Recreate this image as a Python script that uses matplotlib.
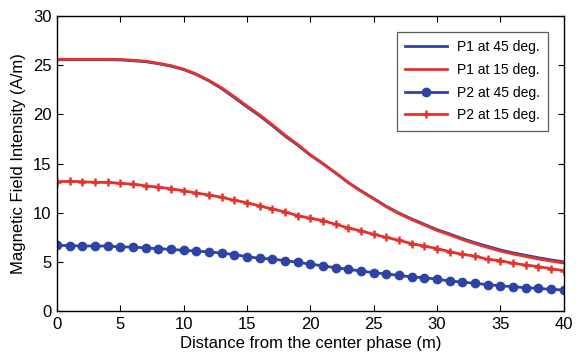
import matplotlib
matplotlib.use("Agg")
import matplotlib.pyplot as plt
import numpy as np

plt.rcParams['font.family'] = ['Liberation Sans', 'DejaVu Sans']

distance = list(range(0, 41))

p1_15 = [25.6, 25.6, 25.6, 25.6, 25.6, 25.58, 25.5, 25.4, 25.2, 24.95,
         24.6, 24.1, 23.45, 22.7, 21.8, 20.85, 19.95, 18.95, 17.9, 16.95,
         15.9, 15.0, 14.05, 13.05, 12.2, 11.4, 10.6, 9.9, 9.3, 8.75,
         8.2, 7.75, 7.27, 6.85, 6.47, 6.1, 5.8, 5.55, 5.3, 5.08, 4.88]

p1_45 = [25.55, 25.55, 25.55, 25.55, 25.55, 25.53, 25.45, 25.35, 25.15, 24.9,
         24.55, 24.05, 23.4, 22.62, 21.7, 20.75, 19.85, 18.85, 17.8, 16.87,
         15.85, 14.97, 14.05, 13.07, 12.23, 11.45, 10.65, 9.96, 9.37, 8.83,
         8.28, 7.84, 7.37, 6.95, 6.58, 6.21, 5.92, 5.67, 5.42, 5.2, 5.0]

p2_15 = [13.15, 13.19, 13.15, 13.08, 13.08, 12.98, 12.9, 12.73, 12.6, 12.43,
         12.23, 11.99, 11.8, 11.56, 11.26, 11.02, 10.68, 10.38, 10.07, 9.7,
         9.43, 9.19, 8.82, 8.44, 8.14, 7.8, 7.49, 7.19, 6.85, 6.61,
         6.35, 6.03, 5.76, 5.59, 5.25, 5.12, 4.85, 4.68, 4.51, 4.31, 4.1]

p2_45 = [6.68, 6.65, 6.61, 6.61, 6.61, 6.51, 6.51, 6.41, 6.34, 6.27,
         6.17, 6.1, 6.0, 5.9, 5.73, 5.53, 5.36, 5.29, 5.12, 4.95,
         4.78, 4.58, 4.41, 4.24, 4.07, 3.9, 3.76, 3.63, 3.46, 3.39,
         3.24, 3.05, 2.95, 2.81, 2.68, 2.57, 2.47, 2.37, 2.3, 2.2, 2.14]

labels = ["P1 at 45 deg.", "P1 at 15 deg.", "P2 at 45 deg.", "P2 at 15 deg."]
xticks = [0, 5, 10, 15, 20, 25, 30, 35, 40]
yticks = [0, 5, 10, 15, 20, 25, 30]

blue = '#2d44a6'
red = '#e5322b'

fig = plt.figure(figsize=(5.77, 3.56), dpi=100)
ax = fig.add_axes([57/577, 1-311/356, (563.5-57)/577, (311-16)/356])

ax.plot(distance, p1_45, color=blue, lw=2.0, label=labels[0])
ax.plot(distance, p1_15, color=red, lw=2.0, label=labels[1])
ax.plot(distance, p2_45, color=blue, lw=2.0, marker='o', markersize=6,
        label=labels[2])
ax.plot(distance, p2_15, color=red, lw=2.0, marker='+', markersize=5.5,
        markeredgewidth=1.8, label=labels[3])

ax.set_xlim(0, 40)
ax.set_ylim(0, 30)
ax.set_xticks(xticks)
ax.set_yticks(yticks)
ax.tick_params(direction='in', length=4, width=0.8, labelsize=12,
               top=True, right=True, pad=4)
for s in ax.spines.values():
    s.set_linewidth(1.0)

ax.set_xlabel("Distance from the center phase (m)", fontsize=12, labelpad=3)
ax.set_ylabel("Magnetic Field Intensity (A/m)", fontsize=12, labelpad=5)

leg = ax.legend(loc='upper right', bbox_to_anchor=(1 - 15.5/506.5, 1 - 16/295),
                fontsize=10, frameon=True, fancybox=False, edgecolor='#333333',
                handlelength=3.0, handletextpad=0.7, labelspacing=0.62,
                borderpad=0.6, borderaxespad=0)
leg.get_frame().set_linewidth(0.9)

fig.savefig("out.png", dpi=100)
